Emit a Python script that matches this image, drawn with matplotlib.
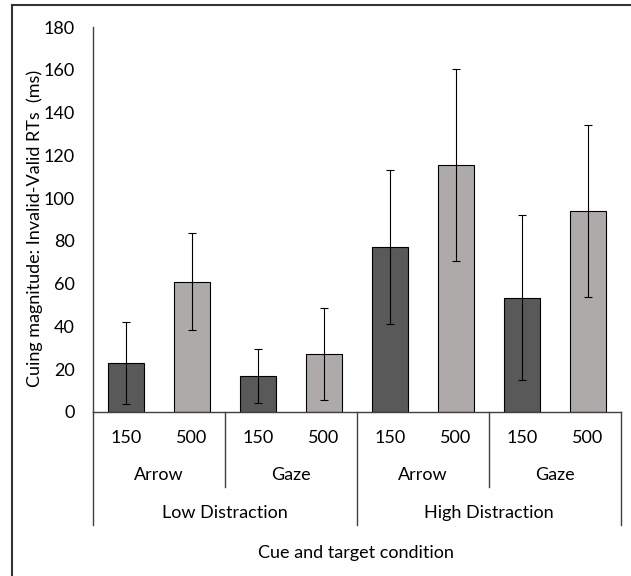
import matplotlib.pyplot as plt
from matplotlib.transforms import blended_transform_factory
import numpy as np

plt.rcParams['font.family'] = ['Lato', 'DejaVu Sans']

# data
soas = ['150', '500', '150', '500', '150', '500', '150', '500']
cues = ['Arrow', 'Gaze', 'Arrow', 'Gaze']
distraction = ['Low Distraction', 'High Distraction']
cuing = [22.8, 61.0, 17.0, 27.0, 77.0, 115.5, 53.5, 94.0]
err = [19.1, 22.8, 12.6, 21.5, 36.0, 45.0, 38.4, 40.0]

dark = '#595959'
light = '#aeaaaa'
axcol = '#404040'
fs = 13

fig = plt.figure(figsize=(6.31, 5.76), dpi=100)
ax = fig.add_axes([93 / 631, 1 - 412 / 576, 528 / 631, 385 / 576])

x = np.arange(len(cuing))
colors = [dark if s == '150' else light for s in soas]
ax.bar(x, cuing, width=0.55, color=colors, edgecolor='black', linewidth=0.8, zorder=2)
ax.errorbar(x, cuing, yerr=err, fmt='none', ecolor='black', elinewidth=0.8,
            capsize=3, capthick=0.8, zorder=3)

ax.set_xlim(-0.5, len(cuing) - 0.5)
ax.set_ylim(0, 180)
ax.set_yticks(range(0, 181, 20))
ax.tick_params(axis='y', length=0, pad=13, labelsize=fs)
ax.set_xticks([])
for s in ['top', 'right']:
    ax.spines[s].set_visible(False)
for s in ['left', 'bottom']:
    ax.spines[s].set_color(axcol)
    ax.spines[s].set_linewidth(1.0)

# multi-level category axis
tr = blended_transform_factory(ax.transData, fig.transFigure)
def fy(py):
    return 1 - py / 576

for i, s in enumerate(soas):
    ax.text(i, fy(438), s, transform=tr, ha='center', va='center', fontsize=fs)
for j, c in enumerate(cues):
    ax.text(2 * j + 0.5, fy(475), c, transform=tr, ha='center', va='center', fontsize=fs)
for k, d in enumerate(distraction):
    ax.text(4 * k + 1.5, fy(513), d, transform=tr, ha='center', va='center', fontsize=fs)

for xb in [1.5, 5.5]:
    ax.plot([xb, xb], [fy(412), fy(487)], transform=tr, color=axcol, lw=1.0, clip_on=False)
for xb in [-0.5, 3.5, 7.5]:
    ax.plot([xb, xb], [fy(412), fy(525)], transform=tr, color=axcol, lw=1.0, clip_on=False)

fig.text(356 / 631, fy(553), 'Cue and target condition', ha='center', va='center', fontsize=fs)
fig.text(35 / 631, fy(228), 'Cuing magnitude: Invalid-Valid RTs  (ms)', rotation=90,
         ha='center', va='center', fontsize=fs)

# outer frame (top and left visible)
fig.add_artist(plt.Line2D([12 / 631, 12 / 631], [0, fy(5)], color='#333333', lw=1.5))
fig.add_artist(plt.Line2D([12 / 631, 1], [fy(5), fy(5)], color='#333333', lw=1.5))

fig.savefig('out.png', dpi=100)
